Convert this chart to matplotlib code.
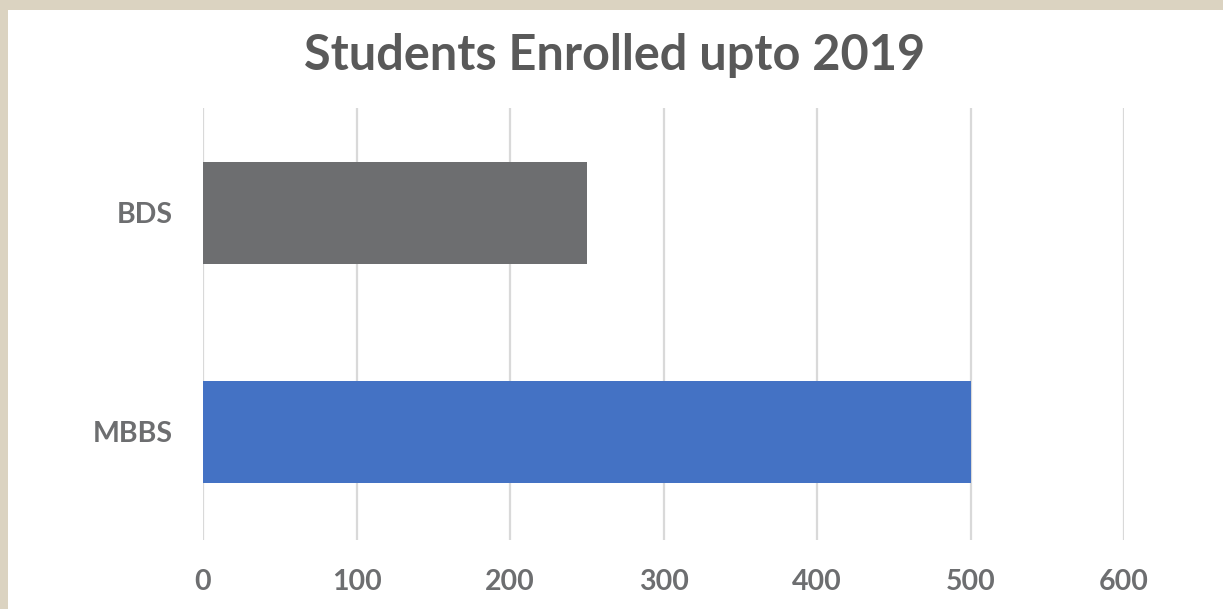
import matplotlib
matplotlib.use("Agg")
import matplotlib.pyplot as plt
from matplotlib.patches import Rectangle

categories = ["MBBS", "BDS"]
values = [500, 250]
bar_colors = ["#4472c4", "#6d6e70"]
xticks = [0, 100, 200, 300, 400, 500, 600]
title = "Students Enrolled upto 2019"

W, H = 1223, 609
fig = plt.figure(figsize=(W / 100, H / 100), dpi=100)
fig.patch.set_facecolor("white")

# beige frame strips (top & left)
fig.patches.append(Rectangle((0, 1 - 10 / H), 1, 10 / H, transform=fig.transFigure,
                             facecolor="#dbd3c1", edgecolor="none", zorder=0))
fig.patches.append(Rectangle((0, 0), 8 / W, 1, transform=fig.transFigure,
                             facecolor="#dbd3c1", edgecolor="none", zorder=0))

ax = fig.add_axes([203 / W, 1 - 540 / H, (1124 - 203) / W, (540 - 108) / H])
ax.barh(range(len(categories)), values, height=0.465, color=bar_colors, zorder=3)
ax.set_xlim(0, 600)
ax.set_ylim(-0.493, 1.479)
ax.set_xticks(xticks)
ax.set_xticklabels([str(t) for t in xticks])
ax.set_yticks(range(len(categories)))
ax.set_yticklabels(categories)
for s in ax.spines.values():
    s.set_visible(False)
ax.grid(axis="x", color="#d9d9d9", linewidth=1.6, zorder=0)
ax.set_axisbelow(True)
ax.tick_params(axis="both", length=0, labelsize=20.5, labelcolor="#6d6e70")
ax.tick_params(axis="x", pad=21)
ax.tick_params(axis="y", pad=22)
for lab in ax.get_xticklabels() + ax.get_yticklabels():
    lab.set_fontweight("bold")
    lab.set_fontfamily("Lato")

fig.text(615 / W, 1 - 55 / H, title, ha="center", va="center", fontsize=35,
         fontweight="bold", color="#595959", family="Lato")

fig.savefig("out.png", dpi=100)
